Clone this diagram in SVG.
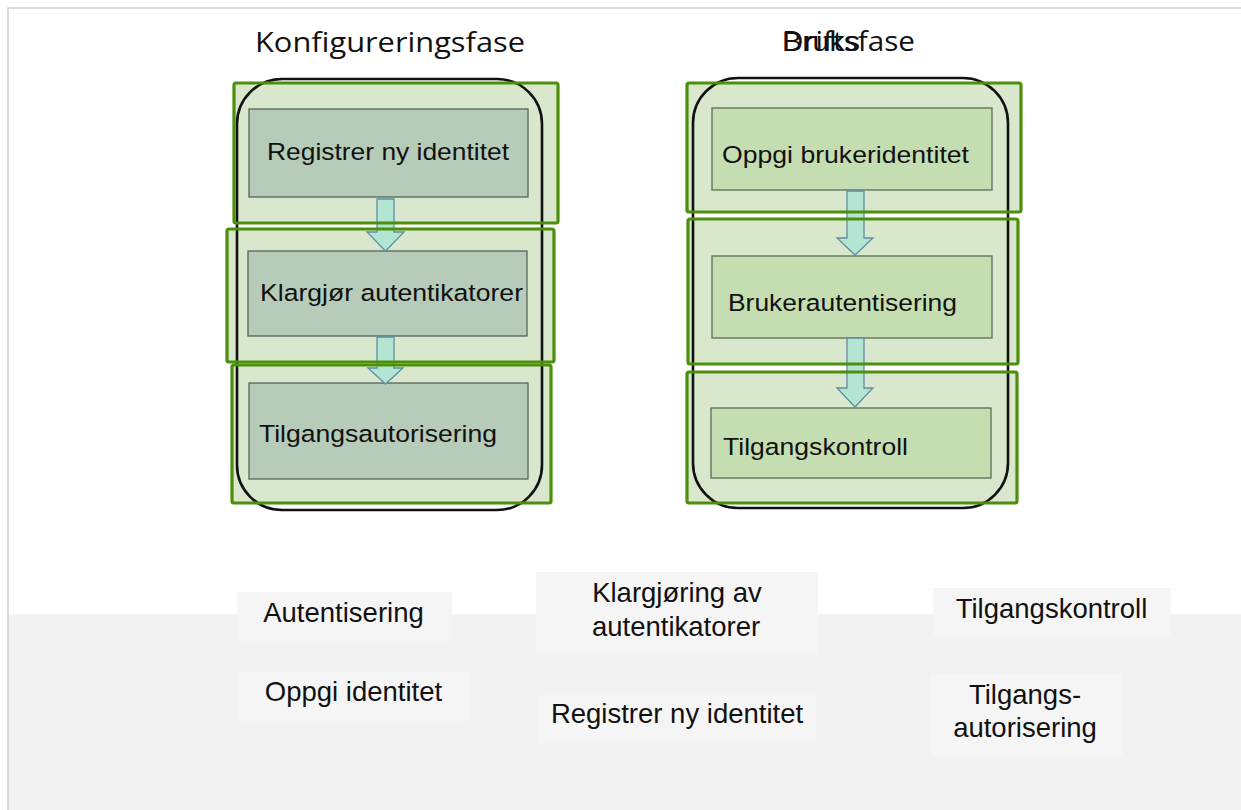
<svg xmlns="http://www.w3.org/2000/svg" width="1241" height="810" viewBox="0 0 1241 810">
<style>
.frame{fill:none;stroke:#cfcfcf;stroke-width:1.5}
.band{fill:#f2f2f2}
.gfill{fill:#d9e7cd}
.gline{fill:none;stroke:#4b8f0c;stroke-width:3.2}
.outer{fill:none;stroke:#111;stroke-width:2.6}
.boxA{fill:#b6cbb8;stroke:#55645a;stroke-width:1.3}
.boxB{fill:#c4deb1;stroke:#5b6a55;stroke-width:1.3}
.arrow{fill:#b2e6d3;stroke:#5f8ea3;stroke-width:1.3;stroke-linejoin:miter}
.t{font-family:"Liberation Sans",Arial,sans-serif;font-size:24.5px;fill:#111}
.title{font-family:"Open Sans","Liberation Sans",sans-serif;font-size:28px;fill:#111}
.lblbox{fill:#f5f5f5}
.lbl{font-family:"Liberation Sans",Arial,sans-serif;font-size:27.5px;fill:#111;text-anchor:middle}
</style>
<rect x="0" y="0" width="1241" height="810" fill="#fff"/>
<rect class="band" x="8" y="614" width="1233" height="196"/>
<path class="frame" d="M8,810 V8 H1241"/>

<g id="title-konfig">
<text class="title" x="255" y="52" textLength="270" lengthAdjust="spacingAndGlyphs">Konfigureringsfase</text>
</g>
<g id="title-drift">
<text class="title" x="782" y="51" textLength="133" lengthAdjust="spacingAndGlyphs">Driftsfase</text>
<text class="title" x="782" y="51" textLength="78" lengthAdjust="spacingAndGlyphs" style="font-family:'Liberation Sans',Arial,sans-serif;font-size:27px">Bruks</text>
</g>

<g id="phase-left-fills">
<rect class="gfill" x="234" y="83" width="324" height="140"/>
<rect class="gfill" x="227" y="229" width="327" height="133"/>
<rect class="gfill" x="232" y="365" width="319" height="138"/>
</g>
<g id="phase-right-fills">
<rect class="gfill" x="687" y="83" width="334" height="129"/>
<rect class="gfill" x="688" y="219" width="330" height="145"/>
<rect class="gfill" x="687" y="372" width="330" height="131"/>
</g>

<g id="outer-left"><rect class="outer" x="237" y="79" width="305" height="431" rx="45" ry="45"/></g>
<g id="outer-right"><rect class="outer" x="693" y="78" width="315" height="430" rx="45" ry="45"/></g>

<g id="node-registrer">
<rect class="boxA" x="249" y="109" width="279" height="88"/>
<text class="t" x="267" y="160" textLength="242" lengthAdjust="spacingAndGlyphs">Registrer ny identitet</text>
</g>
<g id="node-klargjor">
<rect class="boxA" x="248" y="251" width="279" height="85"/>
<text class="t" x="260" y="301" textLength="263" lengthAdjust="spacingAndGlyphs">Klargjør autentikatorer</text>
</g>
<g id="node-tilgangsautorisering">
<rect class="boxA" x="249" y="383" width="279" height="96"/>
<text class="t" x="259" y="442" textLength="238" lengthAdjust="spacingAndGlyphs">Tilgangsautorisering</text>
</g>
<g id="node-oppgi">
<rect class="boxB" x="712" y="108" width="280" height="82"/>
<text class="t" x="722" y="163" textLength="247" lengthAdjust="spacingAndGlyphs">Oppgi brukeridentitet</text>
</g>
<g id="node-brukerautentisering">
<rect class="boxB" x="712" y="256" width="280" height="82"/>
<text class="t" x="728" y="311" textLength="229" lengthAdjust="spacingAndGlyphs">Brukerautentisering</text>
</g>
<g id="node-tilgangskontroll">
<rect class="boxB" x="711" y="408" width="280" height="70"/>
<text class="t" x="723" y="455" textLength="185" lengthAdjust="spacingAndGlyphs">Tilgangskontroll</text>
</g>

<g id="connectors">
<path class="arrow" d="M377,199 H394 V232 H404 L385.5,251 L367,232 H377 Z"/>
<path class="arrow" d="M377,337 H394 V368 H403 L385.5,384 L368,368 H377 Z"/>
<path class="arrow" d="M847,191 H864 V238 H873 L855,255 L837,238 H847 Z"/>
<path class="arrow" d="M847,338 H864 V388 H873 L855,407 L837,388 H847 Z"/>
</g>

<g id="phase-left-lines">
<rect class="gline" x="234" y="83" width="324" height="140" rx="2"/>
<rect class="gline" x="227" y="229" width="327" height="133" rx="2"/>
<rect class="gline" x="232" y="365" width="319" height="138" rx="2"/>
</g>
<g id="phase-right-lines">
<rect class="gline" x="687" y="83" width="334" height="129" rx="2"/>
<rect class="gline" x="688" y="219" width="330" height="145" rx="2"/>
<rect class="gline" x="687" y="372" width="330" height="131" rx="2"/>
</g>

<g id="label-autentisering">
<rect class="lblbox" x="237" y="592" width="215" height="49"/>
<text class="lbl" x="343.5" y="622">Autentisering</text>
</g>
<g id="label-oppgi-identitet">
<rect class="lblbox" x="238" y="672" width="231" height="49"/>
<text class="lbl" x="353.5" y="701">Oppgi identitet</text>
</g>
<g id="label-klargjoring">
<rect class="lblbox" x="536" y="572" width="282" height="83"/>
<text class="lbl" x="677" y="602">Klargjøring av</text>
<text class="lbl" x="676" y="636">autentikatorer</text>
</g>
<g id="label-registrer">
<rect class="lblbox" x="538" y="695" width="278" height="48"/>
<text class="lbl" x="677" y="723">Registrer ny identitet</text>
</g>
<g id="label-tilgangskontroll">
<rect class="lblbox" x="933" y="588" width="238" height="49"/>
<text class="lbl" x="1051.5" y="618">Tilgangskontroll</text>
</g>
<g id="label-tilgangsautorisering">
<rect class="lblbox" x="931" y="674" width="192" height="83"/>
<text class="lbl" x="1025" y="704">Tilgangs-</text>
<text class="lbl" x="1025" y="737">autorisering</text>
</g>
</svg>
